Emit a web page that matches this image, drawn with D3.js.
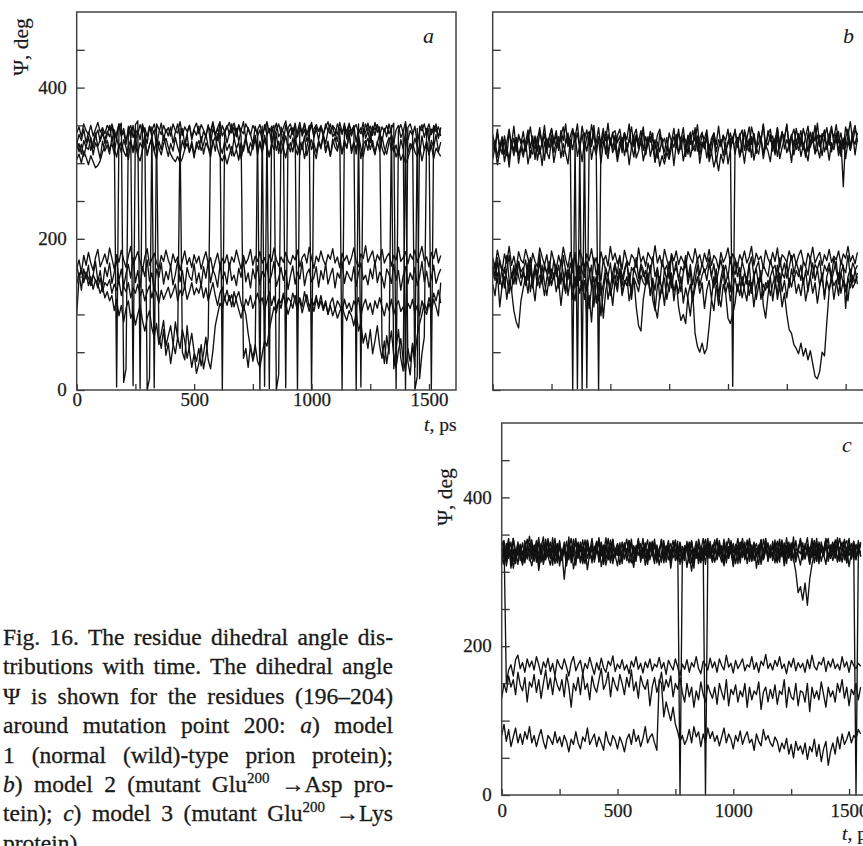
<!DOCTYPE html>
<html><head><meta charset="utf-8">
<script src="https://cdn.jsdelivr.net/npm/d3@7"></script>
<style>
body{margin:0;background:#fff;}
svg{display:block;}
text{font-family:"Liberation Serif","Times New Roman",serif;fill:#1a1a1a;}
</style></head><body>
<svg id="chart" width="863" height="846"></svg>
<script>
const T_STEP = 10;           // ps between samples
const T_MAX = 1615;          // right edge of the time axis
const PSI_MAX = 500;         // top of the psi axis
const xTicks = [0,250,500,750,1000,1250,1500];
const xTickLabels = [0,500,1000,1500];
const yTicks = [0,50,100,150,200,250,300,350,400,450];
const yTickLabels = [0,200,400];
const panelLetters = ["a","b","c"];

// panel a : model 1 (wild type)
const psiA1 = [318,326,312,330,321,335,317,328,340,322,331,345,326, 338,350,329,344,333,352,336,341,325,347,334,350,329, 343,331,352,338,326,349,335,344,322,340,353,330,345, 336,348,327,341,352,333,346,325,339,350,331,344,337, 349,328,342,335,351,326,345,338,330,353,336,343,327, 340,352,334,346,329,343,355,332,347,338,325,349,336, 344,330,351,337,346,326,342,353,335,341,328,350,339, 333,347,325,342,354,336,345,329,340,351,334,346,331, 348,337,326,343,352,335,341,329,347,338,353,332,344, 336,350,328,345,339,354,333,342,327,348,337,351,340, 329,346,335,352,338,327,344,350,334,341,355,331,343, 337,349,326,342,351,334,346,330,345,339,352,333,347];
const psiA2 = [330,315,325,309,322,318,334,311,327,320,306,329,316, 324,312,335,319,308,326,314,331,321,305,328,317,336, 313,327,320,338,310,324,332,315,305,329,318,337,322, 309,326,316,334,321,311,330,319,338,314,325,307,328, 318,335,312,327,320,308,331,316,339,323,313,329,317, 325,310,334,319,328,306,321,336,314,327,318,333,311, 329,316,337,322,309,326,318,340,313,330,320,307,325, 315,333,321,311,328,318,336,310,324,331,317,306,327, 319,338,314,326,309,332,321,316,335,312,328,320,340, 313,327,318,334,306,325,330,317,339,322,311,329,316, 335,320,312,328,337,315,324,309,331,319,340,314,326, 318,333,322,310,336,317,327,312,330,321,338,315,328];
const psiA3 = [305,312,300,316,308,298,310,302,294,297,303,315,322, 330,318,326,312,334,320,328,316,309,322,331,314,325, 310,303,318,327,312,324,335,317,329,320,311,326,333, 321,312,306,302,309,300,307,318,326,315,329,312,321, 330,317,325,338,322,314,327,335,319,309,303,312,299, 311,322,309,318,304,327,316,331,320,310,324,337,318, 326,314,332,320,308,325,338,317,329,313,324,336,319, 327,315,333,321,311,328,306,322,335,318,326,314,330, 322,337,316,329,310,325,334,319,327,313,331,320,338, 317,328,312,336,321,309,326,333,318,330,314,327,339, 320,311,325,334,316,323,308,319,304,312,300,306,318, 327,315,309,323,303,318,329,311,324,306,320,314,309];
const psiA4 = [340,348,335,352,343,338,350,336,345,354,341,347,339, 350,344,352,340,4,346,353,10,28,349,342,6,351, 356,2,350,343,0,15,348,3,352,345,338,350,341, 347,336,352,343,340,355,337,348,342,350,334,346,353, 339,351,344,336,349,342,355,338,346,333,350,341,347, 354,340,348,335,351,343,339,352,345,337,350,344,341, 0,349,5,352,2,345,350,0,20,348,341,3,347, 352,338,349,1,346,340,353,337,350,0,345,351,342, 348,336,352,343,339,350,345,338,354,341,347,336,350, 343,349,0,352,4,346,340,353,338,349,344,351,337, 348,342,350,339,346,353,2,344,351,340,0,347,352, 341,0,18,349,343,352,338,346,0,350,342,348,336];
const psiA5 = [325,338,330,345,327,341,333,320,336,344,329,339,331, 342,335,348,331,340,352,337,346,329,343,350,334,345, 338,351,340,347,335,349,343,352,338,72,55,80,46, 62,35,58,90,68,346,50,40,85,52,30,48,22, 35,60,28,45,70,340,352,336,347,355,0,343,350, 338,346,353,341,349,336,42,55,30,60,38,52,344, 351,338,346,355,340,349,335,344,352,339,347,356,337, 346,340,353,335,348,342,351,338,345,354,336,349,343, 350,339,347,355,341,348,336,352,344,0,349,342,353, 338,346,351,340,347,335,352,343,349,337,354,341,348, 60,35,72,48,350,28,55,80,42,25,351,38,20, 62,30,346,15,48,70,343,352,338,349,344,335,347];
const psiA6 = [160,172,155,178,165,182,168,158,175,186,163,171,180, 167,188,174,160,179,169,185,172,162,177,190,166,174, 183,170,158,176,187,165,173,181,168,160,178,170,185, 172,163,180,169,176,158,171,184,166,175,162,179,168, 177,160,173,183,167,175,158,170,181,164,174,168,179, 162,176,169,185,172,160,178,167,174,186,165,177,170, 183,168,175,161,179,170,188,173,164,176,169,182,171, 166,178,172,185,163,175,180,168,189,174,161,177,170, 184,172,165,179,173,187,168,176,162,181,171,178,166, 175,188,170,163,180,174,191,169,177,184,166,179,172, 186,168,176,181,164,178,172,189,170,175,183,167,180, 173,185,169,178,190,171,176,163,182,174,187,168,178];
const psiA7 = [140,155,132,160,147,165,138,152,170,143,158,135,162, 150,168,141,156,173,145,160,137,154,166,148,175,142, 158,136,163,150,172,144,155,131,160,149,168,140,157, 146,165,139,153,171,143,158,134,162,150,145,167,141, 155,137,163,148,170,142,159,151,136,165,147,156,140, 168,145,152,138,161,149,172,143,155,135,160,147,164, 139,157,150,166,142,153,170,137,148,162,145,158,133, 151,164,140,156,147,169,138,154,160,143,149,163,136, 158,146,167,140,152,161,135,155,148,170,141,157,150, 144,163,137,155,168,146,152,139,160,147,171,142,156, 149,135,160,153,141,166,145,158,132,151,163,140,155, 146,162,138,150,170,143,157,136,148,165,141,152,160];
const psiA8 = [100,148,160,145,156,138,150,133,146,140,128,136,122, 130,118,125,105,120,98,112,90,108,118,95,104,86, 100,112,92,78,95,105,82,70,88,60,75,92,58, 72,85,62,48,70,55,80,65,42,58,75,50,38, 55,32,48,70,40,28,52,85,100,115,108,122,112, 125,110,130,118,106,95,112,100,75,55,42,60,38, 30,48,65,58,80,95,110,102,118,108,125,115,100, 112,128,118,105,122,110,130,116,104,120,112,125,108, 118,105,115,100,112,98,108,95,104,110,100,92,105, 98,85,102,78,90,62,75,55,80,48,65,85,58, 42,65,35,58,78,45,30,52,68,40,25,55,38, 60,45,72,88,100,115,105,122,110,128,118,132,115];
const psiA9 = [165,150,158,142,155,148,138,152,145,135,148,130,142, 138,146,128,140,132,145,125,137,130,142,122,135,128, 140,125,133,118,130,138,122,135,128,115,132,120,128, 136,122,130,140,118,132,125,138,120,130,142,126,135, 128,140,122,135,118,130,142,125,112,128,136,120,132, 118,126,110,122,130,115,105,120,112,125,108,118,128, 115,122,105,118,130,112,124,108,120,115,128,110,122, 118,108,125,112,120,102,115,126,110,118,104,120,112, 125,108,118,100,115,122,105,118,112,102,120,108,115, 104,118,110,122,98,112,120,106,115,100,118,108,122, 110,98,115,105,120,100,112,118,104,110,96,115,108, 120,102,112,98,118,106,100,115,104,120,110,98,142];

// panel b : model 2 (Glu200 -> Asp)
const psiB1 = [330,318,340,322,335,312,328,345,320,333,315,338,326, 342,319,331,348,324,336,316,341,327,350,321,334,345, 325,338,317,343,330,352,322,336,346,328,340,319,349, 332,344,323,351,335,327,347,320,339,330,353,325,341, 318,336,345,326,340,315,333,348,322,338,329,343,317, 335,324,342,330,319,337,345,326,333,316,340,328,346, 321,339,331,347,318,336,325,343,329,351,320,338,332, 344,317,333,340,325,349,322,337,330,345,319,334,342, 326,339,315,344,331,322,348,335,320,341,328,352,324, 337,345,323,331,347,319,340,334,350,326,338,321,346, 330,343,318,336,349,325,341,329,353,322,339,335,347, 324,345,333,351,327,340,319,348,336,355,329,344,338];
const psiB2 = [305,322,298,316,330,302,319,295,326,310,333,300,321, 308,329,299,317,312,334,304,323,297,328,315,306,331, 301,320,335,307,326,313,299,331,318,340,309,324,302, 329,316,338,305,323,311,335,300,327,318,306,332,314, 325,302,319,334,310,327,298,321,336,307,316,330,303, 318,335,309,324,301,328,315,333,306,320,311,329,297, 326,312,332,303,319,337,308,323,316,334,300,321,329, 307,325,314,336,302,320,331,310,328,299,317,334,312, 330,308,322,300,326,315,335,304,320,312,333,306,324, 316,302,329,311,337,306,321,333,314,325,301,330,318, 332,309,324,316,303,328,335,312,320,307,338,315,326, 304,327,318,335,310,323,331,306,329,317,340,311,333];
const psiB3 = [338,322,345,316,333,327,310,341,325,349,318,335,330, 312,328,344,320,336,305,331,347,323,339,314,332,346, 329,343,319,337,348,326,340,315,344,333,352,321,338, 316,335,342,325,350,318,334,329,346,312,338,324,340, 343,327,336,314,340,331,352,320,337,345,322,334,348, 311,333,328,340,302,318,296,310,299,314,305,322,335, 326,345,318,337,330,312,339,322,347,316,333,341,324, 338,302,315,295,308,290,312,300,318,325,340,327,345, 321,336,344,317,332,348,325,339,313,342,330,351,319, 343,329,336,318,347,324,340,331,352,316,335,345,327, 339,322,346,333,315,341,328,350,320,337,332,344,318, 336,349,325,340,316,331,269,334,345,322,339,350,328];
const psiB4 = [315,330,308,325,312,336,320,305,328,317,334,310,323, 331,316,339,307,326,319,335,312,328,304,333,321,337, 314,329,320,338,309,326,334,317,0,332,2,328,0, 340,3,335,322,339,315,0,331,326,342,313,333,320, 337,309,328,322,340,316,331,324,308,336,319,330,343, 312,327,335,318,331,307,339,323,315,334,310,329,321, 338,314,326,333,309,330,341,317,324,336,311,328,319, 335,308,327,340,315,331,323,337,312,329,333,5,326, 334,310,328,341,317,332,308,339,321,326,335,313,330, 324,338,316,333,309,328,342,319,331,323,336,311,329, 317,335,326,308,340,321,332,314,337,328,310,334,323, 339,315,330,327,342,309,333,321,336,318,331,325,340];
const psiB5 = [175,162,185,170,158,180,168,190,165,177,160,183,172, 168,186,174,159,181,170,163,188,176,165,179,156,184, 171,160,178,166,189,173,162,182,169,176,158,185,174, 163,180,171,187,166,175,159,183,170,178,164,190,172, 181,167,176,160,185,172,165,179,174,162,188,169,177, 164,182,175,170,191,168,178,163,186,173,160,180,171, 184,166,177,170,162,183,175,168,187,172,179,164,181, 170,186,165,178,173,160,182,169,176,188,167,180,174, 163,179,171,184,168,176,190,165,181,172,177,161,185, 174,167,182,170,188,163,179,175,169,184,172,180,166, 178,185,170,164,181,173,189,168,176,182,165,179,171, 186,169,177,172,184,166,180,174,190,170,178,167,182];
const psiB6 = [150,168,142,172,155,135,160,178,148,165,140,170,156, 162,138,158,175,145,166,152,180,140,163,155,170,148, 172,150,165,140,178,158,146,168,155,182,143,164,157, 149,170,160,135,175,152,166,144,173,158,150,168,140, 165,154,178,146,160,170,138,162,156,175,148,167,159, 143,168,155,176,150,162,140,172,158,165,147,180,153, 170,145,163,157,178,148,166,139,160,174,152,168,156, 162,175,150,167,142,158,172,155,165,148,176,160,153, 168,146,170,158,140,164,176,151,162,170,145,166,157, 150,172,160,165,143,175,155,168,148,162,178,154,169, 158,145,170,163,152,176,148,166,160,171,144,165,157, 168,150,175,158,145,172,162,155,178,150,168,160,140];
const psiB7 = [140,125,155,110,138,150,120,145,132,105,90,82,118, 135,150,128,160,140,118,152,135,165,142,125,150,138, 155,130,145,112,140,160,125,148,135,118,150,128,145, 120,140,108,135,150,115,142,98,130,155,120,138,112, 145,130,158,125,140,150,118,135,148,110,85,78,120, 140,155,125,148,132,160,120,138,112,145,130,152,118, 142,128,150,115,135,120,98,130,75,58,50,62,48, 55,85,120,105,138,125,110,140,128,95,88,100,115, 140,125,150,132,118,145,128,155,120,138,148,125,142, 135,150,118,142,128,155,130,145,122,148,136,152,128, 140,125,148,118,135,150,128,142,115,138,150,125,145, 132,148,120,140,155,128,145,138,118,150,135,142,155];
const psiB8 = [160,145,170,150,135,162,148,128,155,140,165,150,138, 155,142,168,130,150,160,138,152,145,125,148,160,140, 150,165,135,155,142,130,158,145,120,150,138,160,132, 145,100,125,90,138,150,118,142,95,130,148,125,140, 152,135,160,128,145,138,155,120,148,140,130,152,142, 138,150,125,145,110,95,125,138,148,120,140,155,130, 145,110,92,100,88,125,140,118,135,150,128,142,108, 132,145,120,150,138,112,140,155,128,142,118,135,148, 130,145,122,138,150,125,142,110,135,148,120,140,132, 145,125,140,150,120,138,110,128,100,80,75,60,55, 48,62,45,55,40,52,35,18,15,25,50,45,90, 131,150,138,145,125,155,140,130,148,135,152,142,150];
const psiB9 = [168,150,175,140,162,155,178,145,130,160,152,170,148, 158,172,145,165,135,160,150,170,142,166,155,138,160, 150,165,140,172,155,128,160,148,168,135,158,145,170, 160,132,150,165,110,145,158,125,140,162,150,135,155, 168,145,160,138,155,170,148,130,162,152,140,165,150, 158,140,165,120,105,138,150,128,160,145,170,135,155, 162,148,130,155,170,140,158,118,145,165,138,152,160, 145,168,150,135,160,125,148,165,140,155,130,158,170, 150,162,138,155,145,168,128,150,160,140,158,112,95, 125,150,160,142,165,138,155,148,170,135,160,145,158, 150,165,140,158,130,152,168,145,160,138,155,120,150, 162,145,158,170,140,155,165,108,150,160,142,158,165];

// panel c : model 3 (Glu200 -> Lys)
const psiC1 = [325,310,338,318,330,305,322,340,315,328,312,335,320, 308,326,342,317,331,313,336,321,309,329,345,316,333, 322,340,311,327,335,304,320,338,314,326,343,318,330, 312,334,325,341,307,323,336,316,329,344,319,332,310, 327,339,315,333,320,306,330,342,318,325,337,313,328, 341,316,332,309,326,338,321,335,311,330,343,317,324, 318,333,306,328,340,314,325,337,319,331,310,339,322, 336,313,327,342,320,308,334,324,339,316,329,345,318, 326,340,311,331,322,337,305,328,343,317,333,320,336, 315,329,341,319,334,308,326,338,321,347,313,330,324, 339,317,332,310,327,342,320,335,314,328,344,318,331, 322,337,313,329,340,316,333,307,326,341,319,335,321];
const psiC2 = [310,332,318,340,305,327,315,336,322,309,331,317,338, 328,314,335,302,324,339,316,330,320,346,311,326,334, 315,329,308,337,321,344,313,327,340,318,332,303,325, 336,317,330,321,339,310,327,345,315,333,322,308,331, 318,335,324,312,338,326,314,343,320,331,309,327,340, 325,311,336,322,317,342,313,330,338,319,327,335,310, 334,320,341,315,329,305,337,323,312,332,344,318,326, 313,331,320,338,325,312,340,318,333,307,329,336,321, 338,316,329,345,319,334,323,310,337,326,340,315,332, 320,343,314,330,325,339,311,336,327,318,342,323,309, 330,318,337,326,345,312,328,319,340,324,310,336,327, 315,332,346,320,328,338,312,333,324,341,317,330,326];
const psiC3 = [335,318,328,345,312,330,320,338,325,314,342,322,331, 317,336,324,310,333,347,319,329,340,315,327,338,308, 327,290,322,338,316,331,345,320,334,311,329,342,318, 332,321,340,314,328,336,309,325,343,318,331,322,337, 316,330,344,321,312,335,327,341,319,333,324,310,339, 321,337,315,329,343,318,326,334,305,328,340,317,332, 312,329,338,322,301,326,341,318,333,315,330,345,320, 327,343,316,331,320,338,312,334,325,309,337,322,330, 345,319,332,314,328,340,321,336,310,327,343,318,331, 322,336,315,329,341,313,332,325,339,317,300,272,280, 262,285,255,290,310,325,338,316,330,322,341,314,329, 336,318,333,345,321,328,312,339,325,331,316,342,320];
const psiC4 = [342,328,315,336,320,345,311,332,325,339,317,330,348, 322,335,313,340,327,318,344,320,331,309,337,326,342, 316,333,321,347,312,329,338,318,336,324,311,340,327, 345,318,331,323,340,315,334,327,312,343,320,336,329, 314,338,325,342,318,330,321,345,313,328,339,317,334, 327,344,312,331,338,320,335,316,329,342,323,314,337, 321,335,328,312,340,326,318,344,330,315,336,323,341, 317,330,345,324,313,337,329,318,342,326,335,311,339, 320,334,327,341,315,330,338,322,313,344,328,336,319, 341,325,312,339,330,318,346,323,335,314,331,327,343, 316,338,324,333,319,342,327,311,336,329,345,318,332, 340,324,337,314,331,344,320,329,338,316,335,327,339];
const psiC5 = [318,332,308,326,340,314,329,322,337,311,334,320,328, 343,317,331,324,338,310,327,345,319,333,321,336,314, 330,325,341,316,334,322,309,338,327,343,318,332,320, 337,313,329,346,321,335,317,330,340,315,328,324,339, 311,334,326,342,320,331,316,337,323,345,318,330,327, 339,316,333,321,344,312,329,336,319,333,326,341,0, 318,334,328,340,312,330,322,337,315,332,0,320,336, 313,329,342,321,335,317,330,345,324,338,311,327,340, 319,333,325,341,314,336,322,330,343,316,328,339,321, 335,312,329,344,320,331,326,340,315,337,323,330,342, 318,334,327,311,339,322,345,316,331,328,341,319,336, 325,343,314,332,338,320,329,345,317,334,0,324,337];
const psiC6 = [335,342,150,168,175,160,182,188,170,178,165,183,172, 180,168,186,175,162,179,171,184,166,177,160,182,174, 169,183,172,160,178,186,167,175,181,163,177,170,185, 173,162,178,168,184,171,165,180,174,187,166,176,170, 182,168,175,163,180,172,186,169,177,164,179,171,183, 167,176,172,185,170,178,162,181,174,168,183,172,160, 176,169,182,165,178,172,186,170,163,180,175,168,184, 171,179,165,183,174,168,188,172,177,164,181,170,176, 183,167,175,172,186,169,178,165,180,174,189,170,177, 168,181,173,186,170,176,163,180,172,184,167,178,171, 177,165,182,170,188,173,168,179,175,185,166,180,172, 183,170,176,168,186,172,179,165,181,174,170,177,173];
const psiC7 = [130,150,138,160,145,155,135,165,148,140,158,125,152, 145,162,138,155,130,150,168,142,157,135,160,148,140, 155,132,162,145,118,150,140,158,135,165,142,150,128, 160,145,138,155,170,142,150,165,132,158,148,140,162, 150,135,158,145,168,140,152,130,160,148,142,155,120, 145,158,138,150,165,140,155,145,160,132,150,142,158, 138,125,150,132,145,118,140,128,152,135,125,148,138, 130,145,122,150,138,128,155,120,142,135,148,125,140, 132,150,118,145,128,140,135,152,115,138,145,125,142, 130,148,122,140,135,155,118,145,132,128,150,120,140, 138,125,150,112,145,130,140,128,152,135,118,145,132, 140,125,150,138,155,130,145,120,142,135,150,128,145];
const psiC8 = [80,95,72,88,65,78,90,70,82,68,85,75,92, 70,80,65,78,88,72,62,80,75,68,85,70,78, 65,80,72,58,75,68,85,70,62,78,72,90,68, 75,82,65,78,70,60,85,72,66,80,74,62,78, 70,58,75,82,68,88,72,80,65,76,92,70,78, 82,70,60,155,150,105,125,112,100,118,95,85,72, 80,68,75,88,70,92,78,85,65,82,70,90,76, 85,72,80,66,78,90,70,82,75,62,80,72,86, 68,78,85,70,75,60,82,72,66,88,74,80,70, 65,78,72,58,70,62,76,55,68,50,72,60,66, 55,70,48,65,58,75,52,68,45,62,72,40,58, 70,55,78,62,82,68,75,85,70,80,76,88,82];
const psiC9 = [312,340,325,333,318,345,328,310,336,322,330,344,315, 337,320,329,346,313,332,325,341,318,335,328,312,339, 324,336,315,330,345,321,327,340,312,334,319,343,326, 318,330,341,313,337,324,346,320,333,311,329,338,322, 340,317,331,326,344,312,335,322,338,318,330,343,316, 331,339,320,326,313,337,329,342,321,334,315,328,340, 324,315,337,330,342,319,333,311,328,345,322,336,318, 329,340,318,335,322,344,316,331,339,320,325,333,312, 338,325,343,320,336,315,331,328,340,322,345,314,330, 321,337,329,313,343,325,335,318,332,340,316,328,345, 322,331,346,319,326,337,314,340,329,321,333,345,318, 334,320,339,327,313,336,342,322,330,318,337,326,340];

const captionLines = [
  [["Fig. 16. The residue dihedral angle dis-"]],
  [["tributions with time. The dihedral angle"]],
  [["Ψ is shown for the residues (196–204)"]],
  [["around mutation point 200: "],["a","i"],[") model"]],
  [["1 (normal (wild)-type prion protein);"]],
  [["b","i"],[") model 2 (mutant Glu"],["200","sup"],[" →Asp pro-","down"]],
  [["tein); "],["c","i"],[") model 3 (mutant Glu"],["200","sup"],[" →Lys","down"]],
  [["protein)."]]
];

// ---------------- LAYOUT ----------------
const panels = [
  {id:"a", series:[psiA1,psiA2,psiA3,psiA4,psiA5,psiA6,psiA7,psiA8,psiA9],
   x0:76.7, y0:12, w:379.3, h:378, labels:true, xlabY:2, letter:[423,43], ylab:[28,47], tlab:[424,431]},
  {id:"b", series:[psiB1,psiB2,psiB3,psiB4,psiB5,psiB6,psiB7,psiB8,psiB9],
   x0:492.7, y0:12, w:380, h:378, labels:false, xlabY:2, letter:[843,43]},
  {id:"c", series:[psiC1,psiC2,psiC3,psiC4,psiC5,psiC6,psiC7,psiC8,psiC9],
   x0:501.7, y0:423, w:374, h:372, labels:true, xlabY:9, letter:[842,452], ylab:[452,497], tlab:[842,840]}
];

const svg = d3.select("#chart");
const FONT = 19;

panels.forEach((p, pi) => {
  const x = d3.scaleLinear().domain([0, T_MAX]).range([p.x0, p.x0 + p.w]);
  const y = d3.scaleLinear().domain([0, PSI_MAX]).range([p.y0 + p.h, p.y0]);
  const clipId = "clip-" + p.id;
  svg.append("clipPath").attr("id", clipId).append("rect")
    .attr("x", p.x0).attr("y", p.y0 - 1).attr("width", p.w).attr("height", p.h + 2);

  const line = d3.line().x((d, i) => x(i * T_STEP)).y(d => y(d));
  svg.append("g").attr("clip-path", `url(#${clipId})`)
    .selectAll("path").data(p.series).join("path")
    .attr("d", line).attr("fill", "none")
    .attr("stroke", "#111").attr("stroke-width", 1.35).attr("stroke-linejoin", "round");

  const xAxis = d3.axisBottom(x).tickValues(xTicks).tickSizeInner(-6).tickSizeOuter(0)
    .tickPadding(4).tickFormat(d => p.labels && xTickLabels.includes(d) ? d : "");
  const gx = svg.append("g").attr("transform", `translate(0,${p.y0 + p.h})`).call(xAxis);
  const yAxis = d3.axisLeft(y).tickValues(yTicks).tickSizeInner(-8).tickSizeOuter(0)
    .tickPadding(10).tickFormat(d => p.labels && yTickLabels.includes(d) ? d : "");
  const gy = svg.append("g").attr("transform", `translate(${p.x0},0)`).call(yAxis);
  [gx, gy].forEach(g => {
    g.select(".domain").remove();
    g.selectAll(".tick line").attr("stroke", "#333").attr("stroke-width", 1.3);
    g.selectAll(".tick text").attr("font-family", "Liberation Serif, serif")
      .attr("font-size", FONT).attr("fill", "#1a1a1a")
      .attr("stroke", "#1a1a1a").attr("stroke-width", 0.25);
  });
  gx.selectAll(".tick text").attr("y", p.xlabY).attr("dy", "0.71em");
  gy.selectAll(".tick text").attr("x", -10).attr("dy", "0.3em");

  svg.append("rect").attr("x", p.x0).attr("y", p.y0).attr("width", p.w).attr("height", p.h)
    .attr("fill", "none").attr("stroke", "#444").attr("stroke-width", 1.5);

  svg.append("text").attr("x", p.letter[0]).attr("y", p.letter[1])
    .attr("font-style", "italic").attr("font-size", 22).text(panelLetters[pi]);

  if (p.ylab) {
    svg.append("text").attr("transform", `translate(${p.ylab[0]},${p.ylab[1]}) rotate(-90)`)
      .attr("text-anchor", "middle").attr("font-size", 21.5)
      .attr("stroke", "#1a1a1a").attr("stroke-width", 0.2).text("Ψ, deg");
  }
  if (p.tlab) {
    const t = svg.append("text").attr("x", p.tlab[0]).attr("y", p.tlab[1]).attr("font-size", FONT + 0.5)
      .attr("stroke", "#1a1a1a").attr("stroke-width", 0.2);
    t.append("tspan").attr("font-style", "italic").text("t");
    t.append("tspan").text(", ps");
  }
});

// ---------------- CAPTION ----------------
const CAP_X = 3, CAP_W = 390, CAP_Y = 645, CAP_LH = 29.4;
captionLines.forEach((parts, i) => {
  const t = svg.append("text").attr("x", CAP_X).attr("y", CAP_Y + i * CAP_LH)
    .attr("font-size", 23.5).attr("stroke", "#1a1a1a").attr("stroke-width", 0.3);
  let text = "";
  parts.forEach(([s, st]) => {
    const ts = t.append("tspan").text(s);
    if (st === "i") ts.attr("font-style", "italic");
    if (st === "sup") ts.attr("dy", -9).attr("font-size", 15);
    if (st === "down") ts.attr("dy", 9);
    text += s;
  });
  if (i < captionLines.length - 1) {
    const w = t.node().getComputedTextLength();
    const n = (text.match(/ /g) || []).length;
    if (n > 0) t.attr("word-spacing", (CAP_W - w) / n);
  }
});
</script>
</body></html>
